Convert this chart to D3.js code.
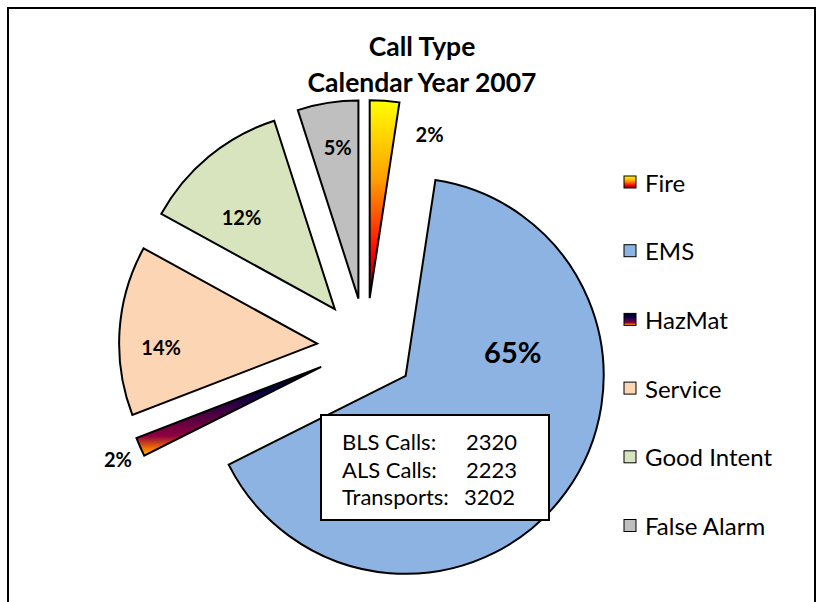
<!DOCTYPE html>
<html>
<head>
<meta charset="utf-8">
<script src="https://cdn.jsdelivr.net/npm/d3@7"></script>
<style>
  body { margin: 0; background: #fff; }
  text { font-family: Lato, "Open Sans", sans-serif; fill: #000; }
</style>
</head>
<body>
<div id="chart"></div>
<script>
// Data
const categories = ['Fire', 'EMS', 'HazMat', 'Service', 'Good Intent', 'False Alarm'];
const shares = [2.4, 65.2, 1.55, 13.85, 12.05, 4.95];
const titleLines = ['Call Type', 'Calendar Year 2007'];
const emsRows = ['BLS Calls:', 'ALS Calls:', 'Transports:'];
const emsCounts = [2320, 2223, 3202];

const W = 821, H = 602;
const cx = 366, cy = 347, radius = 198, explode = 49;

// fills: plain colours or gradient ids
const fills = {
    'Fire': 'url(#gradFire)',
    'EMS': '#8DB3E2',
    'HazMat': 'url(#gradSunset)',
    'Service': '#FCD5B5',
    'Good Intent': '#D7E4BD',
    'False Alarm': '#BFBFBF'
};

// where Excel put each label (angle in degrees, distance from slice tip)
const labelPlace = {
    'Fire': { angle: 20, dist: 175, size: 20 },
    'EMS': { angle: 77, dist: 110, size: 29 },
    'HazMat': { angle: 245.7, dist: 223, size: 20 },
    'Service': { angle: 268.8, dist: 156, size: 20 },
    'Good Intent': { angle: 314.6, dist: 131, size: 20 },
    'False Alarm': { angle: 352.2, dist: 153, size: 20 }
};

const svg = d3.select('#chart').append('svg')
    .attr('width', W)
    .attr('height', H);

const defs = svg.append('defs');

function addGradient(id, stops) {
    const g = defs.append('linearGradient')
        .attr('id', id)
        .attr('x1', 0).attr('y1', 0)
        .attr('x2', 0).attr('y2', 1);
    stops.forEach(s => g.append('stop').attr('offset', s[0]).attr('stop-color', s[1]));
}

addGradient('gradFire', [[0, '#FFFF00'], [0.4, '#FFA000'], [0.78, '#FF0000'], [1, '#6E0000']]);
addGradient('gradSunset', [[0, '#000010'], [0.25, '#000040'], [0.5, '#400040'], [0.78, '#8F0040'], [0.92, '#F27300'], [1, '#FFBF00']]);

// outer frame
svg.append('rect')
    .attr('x', 8).attr('y', 8)
    .attr('width', 807).attr('height', 620)
    .attr('fill', 'none')
    .attr('stroke', '#000')
    .attr('stroke-width', 2);

// title
svg.append('g').selectAll('text')
    .data(titleLines).enter()
    .append('text')
    .attr('x', 422)
    .attr('y', (d, i) => 56 + i * 36)
    .attr('text-anchor', 'middle')
    .style('font-size', '26.5px')
    .style('font-weight', 'bold')
    .text(d => d);

const data = categories.map((c, i) => ({ name: c, value: shares[i] }));
const pie = d3.pie().sort(null).value(d => d.value).startAngle(0).endAngle(2 * Math.PI);
const arc = d3.arc().innerRadius(0).outerRadius(radius);
const arcs = pie(data);

const slices = svg.append('g')
    .attr('transform', `translate(${cx},${cy})`)
    .selectAll('g')
    .data(arcs).enter()
    .append('g')
    .attr('transform', d => {
        const mid = (d.startAngle + d.endAngle) / 2;
        return `translate(${Math.sin(mid) * explode},${-Math.cos(mid) * explode})`;
    });

slices.append('path')
    .attr('d', arc)
    .attr('fill', d => fills[d.data.name])
    .attr('stroke', '#000')
    .attr('stroke-width', 2)
    .attr('stroke-linejoin', 'miter');

const pct = d3.format('.0%');
const total = d3.sum(shares);

slices.append('text')
    .attr('x', d => {
        const p = labelPlace[d.data.name];
        return Math.sin(p.angle * Math.PI / 180) * p.dist;
    })
    .attr('y', d => {
        const p = labelPlace[d.data.name];
        return -Math.cos(p.angle * Math.PI / 180) * p.dist;
    })
    .attr('text-anchor', 'middle')
    .attr('dominant-baseline', 'central')
    .style('font-size', d => labelPlace[d.data.name].size + 'px')
    .style('font-weight', 'bold')
    .text(d => pct(d.data.value / total));

// EMS breakdown box
const box = svg.append('g');
box.append('rect')
    .attr('x', 321).attr('y', 415)
    .attr('width', 228).attr('height', 105)
    .attr('fill', '#fff')
    .attr('stroke', '#000')
    .attr('stroke-width', 2);

const rows = box.selectAll('g.row')
    .data(emsRows).enter()
    .append('g')
    .attr('class', 'row')
    .attr('transform', (d, i) => `translate(0,${450 + i * 27.5})`);

rows.append('text')
    .attr('x', 342)
    .style('font-size', '22px')
    .text(d => d);

rows.append('text')
    .attr('x', (d, i) => i === 2 ? 464 : 466)
    .style('font-size', '22px')
    .text((d, i) => emsCounts[i]);

// legend
const legend = svg.append('g')
    .selectAll('g')
    .data(categories).enter()
    .append('g')
    .attr('transform', (d, i) => `translate(624,${182 + i * 68.7})`);

legend.append('rect')
    .attr('x', 0).attr('y', -6)
    .attr('width', 12).attr('height', 12)
    .attr('fill', d => fills[d])
    .attr('stroke', '#000')
    .attr('stroke-width', 1);

legend.append('text')
    .attr('x', 21)
    .attr('dominant-baseline', 'central')
    .style('font-size', '24px')
    .text(d => d);
</script>
</body>
</html>
